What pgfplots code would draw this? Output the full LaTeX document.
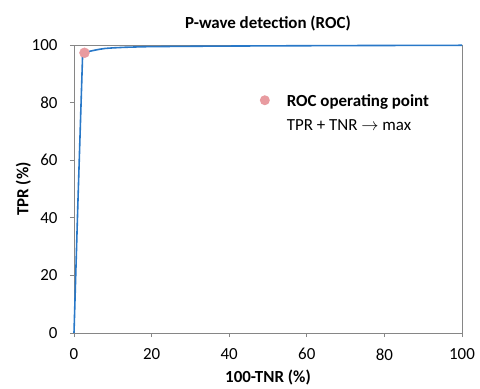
\documentclass[border=0pt]{standalone}
\usepackage{fontspec}
\setmainfont{Carlito}
\usepackage{pgfplots}
\pgfplotsset{compat=1.18}
\definecolor{curveblue}{RGB}{40,120,200}
\definecolor{opink}{RGB}{232,155,160}
\definecolor{axgray}{RGB}{134,134,134}
\begin{document}
\begin{tikzpicture}
\begin{axis}[
  scale only axis,
  width=388bp, height=288bp,
  xmin=0, xmax=100, ymin=0, ymax=100,
  xtick={0,20,40,60,80,100}, ytick={0,20,40,60,80,100},
  tick align=outside, tick pos=left,
  major tick length=4bp,
  axis line style={axgray, line width=1pt},
  tick style={axgray, line width=0.8pt},
  font=\fontsize{17}{20}\selectfont,
  ticklabel style={font=\fontsize{17}{20}\selectfont},
  /pgf/number format/assume math mode=true,
  xticklabel style={yshift=-8bp},
  yticklabel style={xshift=-9bp},
  title={\textbf{P-wave detection (ROC)}},
  title style={font=\fontsize{17}{20}\selectfont, yshift=4bp},
  xlabel={\textbf{100-TNR (\%)}},
  ylabel={\textbf{TPR (\%)}},
  xlabel style={yshift=-3bp},
  ylabel style={yshift=-6bp},
  legend image code/.code={%
    \path[draw=none, fill=none] (0,0) -- (28bp,0);
    \fill[opink, draw=none] (8bp,6bp) circle (5bp);},
  legend style={at={(axis cs:46.3,86)}, anchor=north west, draw=none, fill=none,
    cells={anchor=base west}, font=\fontsize{17}{24}\selectfont},
  clip=false,
]
\addplot[only marks, mark=*, mark size=5bp, mark options={draw=opink, fill=opink}]
  coordinates {(2.7,97.3)};
\addlegendentry{\begin{tabular}[t]{@{}l@{}}\textbf{ROC operating point}\\TPR + TNR $\rightarrow$ max\end{tabular}}
\addplot[curveblue, line width=1.6pt, forget plot] coordinates {
(0,0) (1.0,45) (2.2,95.8) (2.6,96.6) (3.2,97.3) (4,97.8) (5,98.1) (6.5,98.5)
(8,98.8) (10,99.0) (13,99.2) (18,99.4) (25,99.5) (35,99.6) (50,99.7) (70,99.8) (100,99.9)};
\end{axis}
\path ([xshift=-74bp,yshift=-54bp]current axis.south west) rectangle ([xshift=18bp,yshift=45bp]current axis.north east);
\end{tikzpicture}
\end{document}
